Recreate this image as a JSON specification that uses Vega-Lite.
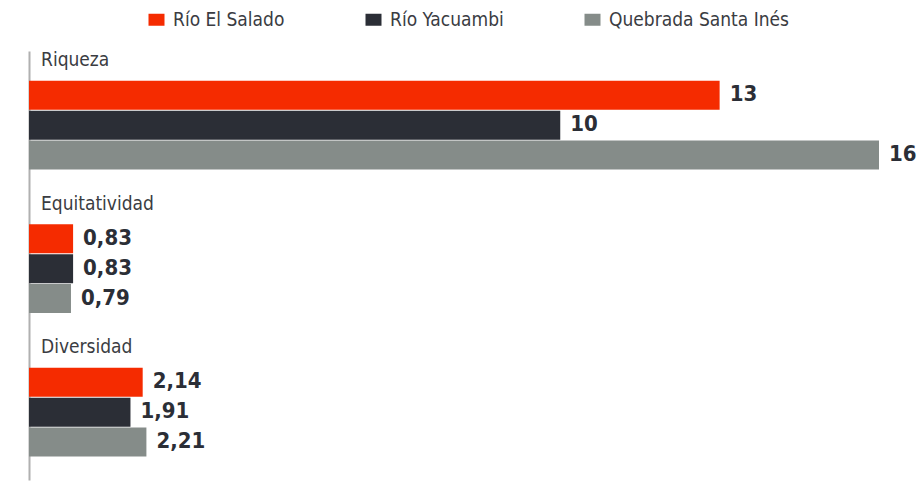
{
  "$schema": "https://vega.github.io/schema/vega-lite/v6.json",
  "width": 850,
  "height": 429,
  "autosize": {"type": "none"},
  "padding": {"left": 29, "top": 51, "right": 41, "bottom": 7},
  "config": {
    "font": "DejaVu Sans Condensed, sans-serif",
    "view": {"stroke": null},
    "locale": {
      "number": {"decimal": ",", "thousands": ".", "grouping": [3], "currency": ["", " €"]}
    }
  },
  "layer": [
    {
      "data": {
        "values": [
          {"grupo": "Riqueza", "serie": "Río El Salado", "valor": 13},
          {"grupo": "Riqueza", "serie": "Río Yacuambi", "valor": 10},
          {"grupo": "Riqueza", "serie": "Quebrada Santa Inés", "valor": 16},
          {"grupo": "Equitatividad", "serie": "Río El Salado", "valor": 0.83},
          {"grupo": "Equitatividad", "serie": "Río Yacuambi", "valor": 0.83},
          {"grupo": "Equitatividad", "serie": "Quebrada Santa Inés", "valor": 0.79},
          {"grupo": "Diversidad", "serie": "Río El Salado", "valor": 2.14},
          {"grupo": "Diversidad", "serie": "Río Yacuambi", "valor": 1.91},
          {"grupo": "Diversidad", "serie": "Quebrada Santa Inés", "valor": 2.21}
        ]
      },
      "encoding": {
        "y": {
          "field": "grupo", "type": "nominal",
          "scale": {
            "domain": ["Riqueza", "Equitatividad", "Diversidad"],
            "paddingInner": 0.174, "paddingOuter": 0.0817, "align": 0, "round": false
          },
          "axis": {"labels": false, "ticks": false, "title": null, "domainColor": "#b0b0b0", "domainWidth": 2}
        },
        "yOffset": {
          "field": "serie", "type": "nominal",
          "scale": {
            "domain": ["_", "Río El Salado", "Río Yacuambi", "Quebrada Santa Inés"],
            "paddingInner": 0.03, "paddingOuter": 0
          }
        },
        "x": {
          "field": "valor", "type": "quantitative",
          "scale": {"domain": [0, 16], "nice": false},
          "axis": null
        }
      },
      "layer": [
        {
          "mark": {"type": "bar"},
          "encoding": {
            "color": {
              "field": "serie", "type": "nominal",
              "scale": {
                "domain": ["Río El Salado", "Río Yacuambi", "Quebrada Santa Inés"],
                "range": ["#F52B00", "#2B2E36", "#858C89"]
              },
              "legend": {
                "title": null,
                "orient": "none",
                "direction": "horizontal",
                "legendX": 118,
                "legendY": -41,
                "symbolType": "M-1,-0.75H1V0.75H-1Z",
                "symbolSize": 256,
                "symbolStrokeWidth": 0,
                "symbolOpacity": 1,
                "labelFontSize": 19,
                "labelLimit": 300,
                "labelColor": "#3a3c42",
                "labelOffset": 7,
                "columnPadding": 79
              }
            }
          }
        },
        {
          "mark": {"type": "text", "align": "left", "baseline": "middle", "dx": 10, "dy": -1, "fontSize": 22, "fontWeight": "bold", "color": "#2B2E36"},
          "encoding": {
            "text": {"field": "valor", "type": "quantitative", "format": "~g"}
          }
        }
      ]
    },
    {
      "data": {
        "values": [
          {"grupo": "Riqueza", "serie": "_"},
          {"grupo": "Equitatividad", "serie": "_"},
          {"grupo": "Diversidad", "serie": "_"}
        ]
      },
      "mark": {"type": "text", "align": "left", "baseline": "alphabetic", "dx": 12, "dy": 1, "fontSize": 19, "color": "#3a3c42"},
      "encoding": {
        "y": {"field": "grupo", "type": "nominal"},
        "yOffset": {"field": "serie", "type": "nominal"},
        "x": {"datum": 0, "type": "quantitative"},
        "text": {"field": "grupo"}
      }
    }
  ]
}
